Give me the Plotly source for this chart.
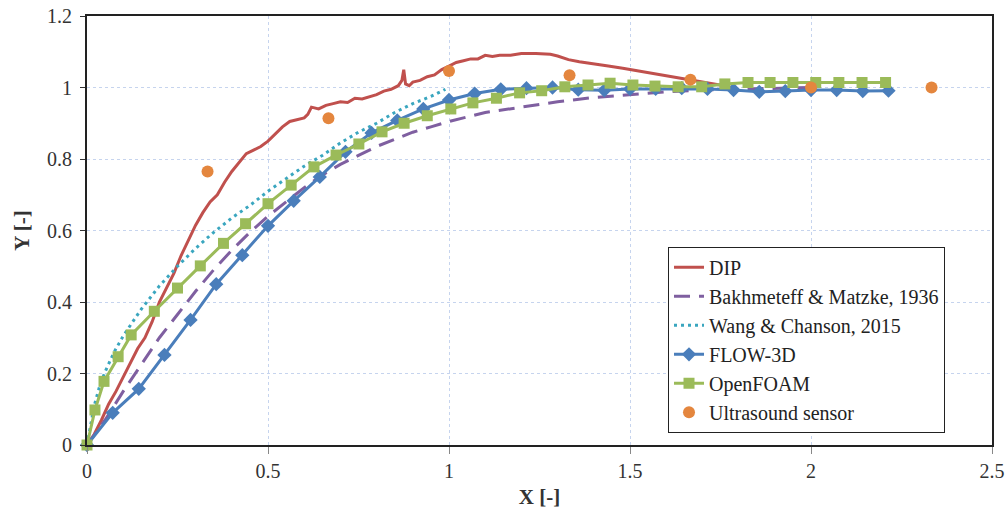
import plotly.graph_objects as go

# ---------------- data ----------------
dip_x = [0.0, 0.02, 0.04, 0.06, 0.08, 0.10, 0.12, 0.14, 0.16, 0.18, 0.20, 0.22, 0.24, 0.26, 0.28,
         0.30, 0.32, 0.34, 0.36, 0.38, 0.40, 0.42, 0.44, 0.46, 0.48, 0.50, 0.52, 0.54, 0.56, 0.58,
         0.60, 0.61, 0.62, 0.64, 0.66, 0.68, 0.70, 0.72, 0.74, 0.76, 0.78, 0.80, 0.82, 0.84, 0.86,
         0.87, 0.875, 0.88, 0.89, 0.90, 0.92, 0.94, 0.96, 0.98, 1.00, 1.02, 1.04, 1.06, 1.08, 1.10,
         1.12, 1.14, 1.17, 1.20, 1.24, 1.28, 1.30, 1.33, 1.36, 1.40, 1.44, 1.48, 1.52, 1.56, 1.60,
         1.64, 1.68, 1.72, 1.76, 1.78]
dip_y = [0.0, 0.03, 0.07, 0.115, 0.15, 0.19, 0.23, 0.27, 0.30, 0.345, 0.40, 0.44, 0.48, 0.53, 0.575,
         0.615, 0.65, 0.68, 0.70, 0.735, 0.765, 0.79, 0.815, 0.825, 0.835, 0.85, 0.87, 0.89, 0.905, 0.91,
         0.915, 0.925, 0.945, 0.94, 0.95, 0.955, 0.96, 0.958, 0.97, 0.968, 0.975, 0.98, 0.99, 0.995, 1.005,
         1.02, 1.05, 1.01, 1.005, 1.015, 1.02, 1.03, 1.035, 1.05, 1.06, 1.07, 1.075, 1.08, 1.08, 1.09,
         1.087, 1.09, 1.09, 1.095, 1.095, 1.093, 1.088, 1.078, 1.072, 1.065, 1.06, 1.054, 1.047, 1.04, 1.034,
         1.026, 1.02, 1.012, 1.005, 1.0]

bak_x = [0, 0.05, 0.1, 0.15, 0.2, 0.25, 0.3, 0.35, 0.4, 0.45, 0.5, 0.55, 0.6, 0.65, 0.7, 0.75, 0.8,
         0.85, 0.9, 0.95, 1.0, 1.1, 1.2, 1.3, 1.4, 1.5, 1.6, 1.7, 1.8, 1.9, 2.0]
bak_y = [0, 0.07, 0.15, 0.225, 0.30, 0.365, 0.43, 0.49, 0.545, 0.595, 0.64, 0.68, 0.72, 0.755, 0.785,
         0.81, 0.835, 0.855, 0.875, 0.89, 0.905, 0.93, 0.945, 0.96, 0.972, 0.98, 0.988, 0.993, 0.996,
         0.998, 1.0]

wang_x = [0.0, 0.01, 0.02, 0.035, 0.05, 0.075, 0.1, 0.15, 0.2, 0.25, 0.3, 0.35, 0.4, 0.45, 0.5, 0.55,
          0.6, 0.65, 0.7, 0.75, 0.8, 0.85, 0.9, 0.95, 0.99]
wang_y = [0.0, 0.06, 0.11, 0.165, 0.205, 0.26, 0.305, 0.38, 0.445, 0.5, 0.55, 0.595, 0.635, 0.67, 0.71,
          0.745, 0.78, 0.81, 0.845, 0.875, 0.9, 0.93, 0.955, 0.975, 0.995]

flow_x = [0, 0.071, 0.143, 0.214, 0.286, 0.357, 0.429, 0.5, 0.571, 0.643, 0.714, 0.786, 0.857, 0.929,
          1.0, 1.071, 1.143, 1.214, 1.286, 1.357, 1.429, 1.5, 1.571, 1.643, 1.714, 1.786, 1.857, 1.929,
          2.0, 2.071, 2.143, 2.214]
flow_y = [0, 0.09, 0.157, 0.252, 0.35, 0.45, 0.531, 0.613, 0.683, 0.75, 0.82, 0.873, 0.908, 0.94,
          0.965, 0.983, 0.995, 0.998, 1.0, 0.994, 0.992, 0.996, 0.996, 0.998, 0.996, 0.993, 0.988, 0.99,
          0.993, 0.993, 0.99, 0.991]

foam_x = [0, 0.022, 0.047, 0.086, 0.122, 0.186, 0.25, 0.313, 0.377, 0.438, 0.5, 0.564, 0.627, 0.688,
          0.751, 0.815, 0.876, 0.94, 1.005, 1.066, 1.131, 1.195, 1.256, 1.32, 1.384, 1.445, 1.508, 1.569,
          1.633, 1.698, 1.762, 1.826, 1.887, 1.95, 2.013, 2.077, 2.141, 2.206]
foam_y = [0, 0.098, 0.178, 0.247, 0.308, 0.374, 0.439, 0.501, 0.564, 0.619, 0.675, 0.727, 0.778, 0.811,
          0.842, 0.876, 0.9, 0.921, 0.94, 0.957, 0.97, 0.985, 0.991, 1.002, 1.007, 1.012, 1.007, 1.004,
          1.002, 1.002, 1.01, 1.014, 1.014, 1.014, 1.014, 1.014, 1.014, 1.014]

us_x = [0.333, 0.667, 1.0, 1.333, 1.667, 2.0, 2.333]
us_y = [0.765, 0.914, 1.046, 1.034, 1.022, 1.0, 1.0]

x_ticks = [0, 0.5, 1, 1.5, 2, 2.5]
x_tick_text = ["0", "0.5", "1", "1.5", "2", "2.5"]
y_ticks = [0, 0.2, 0.4, 0.6, 0.8, 1.0, 1.2]
y_tick_text = ["0", "0.2", "0.4", "0.6", "0.8", "1", "1.2"]

# ---------------- figure ----------------
FONT = "Liberation Serif"
fig = go.Figure()

fig.add_trace(go.Scatter(x=dip_x, y=dip_y, mode="lines", name="DIP",
                         line=dict(color="#C0504D", width=3)))
fig.add_trace(go.Scatter(x=bak_x, y=bak_y, mode="lines", name="Bakhmeteff & Matzke, 1936",
                         line=dict(color="#7F5FA0", width=3, dash="16px,9px")))
fig.add_trace(go.Scatter(x=wang_x, y=wang_y, mode="lines", name="Wang & Chanson, 2015",
                         line=dict(color="#3AA6BF", width=3, dash="3px,4px")))
fig.add_trace(go.Scatter(x=flow_x, y=flow_y, mode="lines+markers", name="FLOW-3D",
                         line=dict(color="#4A7EBB", width=3),
                         marker=dict(symbol="diamond", size=11, color="#4A7EBB"), cliponaxis=False))
fig.add_trace(go.Scatter(x=foam_x, y=foam_y, mode="lines+markers", name="OpenFOAM",
                         line=dict(color="#9BBB59", width=3),
                         marker=dict(symbol="square", size=11, color="#9BBB59"), cliponaxis=False))
fig.add_trace(go.Scatter(x=us_x, y=us_y, mode="markers", name="Ultrasound sensor",
                         marker=dict(symbol="circle", size=12, color="#E4863E"), cliponaxis=False))

fig.update_layout(
    width=1006, height=510,
    margin=dict(l=87, r=14, t=16, b=65, autoexpand=False),
    paper_bgcolor="white", plot_bgcolor="white",
    font=dict(family=FONT, size=20, color="#333333"),
    showlegend=True,
    legend=dict(x=0.642, y=0.462, xanchor="left", yanchor="top",
                bgcolor="white", bordercolor="#222222", borderwidth=1,
                font=dict(family=FONT, size=20, color="#222222")),
    xaxis=dict(range=[0, 2.5], tickvals=x_ticks, ticktext=x_tick_text, automargin=False,
               showline=True, mirror=True, linecolor="#222222", linewidth=2,
               ticks="outside", ticklen=7, tickcolor="#888888",
               tickfont=dict(family=FONT, size=20, color="#333333"),
               showgrid=True, gridcolor="#C6D4EE", griddash="dot", gridwidth=1,
               zeroline=False,
               title=dict(text="<b>X [-]</b>", font=dict(family=FONT, size=21, color="#333333"), standoff=8)),
    yaxis=dict(range=[0, 1.2], tickvals=y_ticks, ticktext=y_tick_text, automargin=False,
               showline=True, mirror=True, linecolor="#222222", linewidth=2,
               ticks="outside", ticklen=5, tickcolor="#333333", ticklabelstandoff=4,
               tickfont=dict(family=FONT, size=20, color="#333333"),
               showgrid=True, gridcolor="#C6D4EE", griddash="dot", gridwidth=1,
               zeroline=False,
               title=dict(text="<b>Y [-]</b>", font=dict(family=FONT, size=21, color="#333333"), standoff=12)),
)

fig.write_html("out.html")
